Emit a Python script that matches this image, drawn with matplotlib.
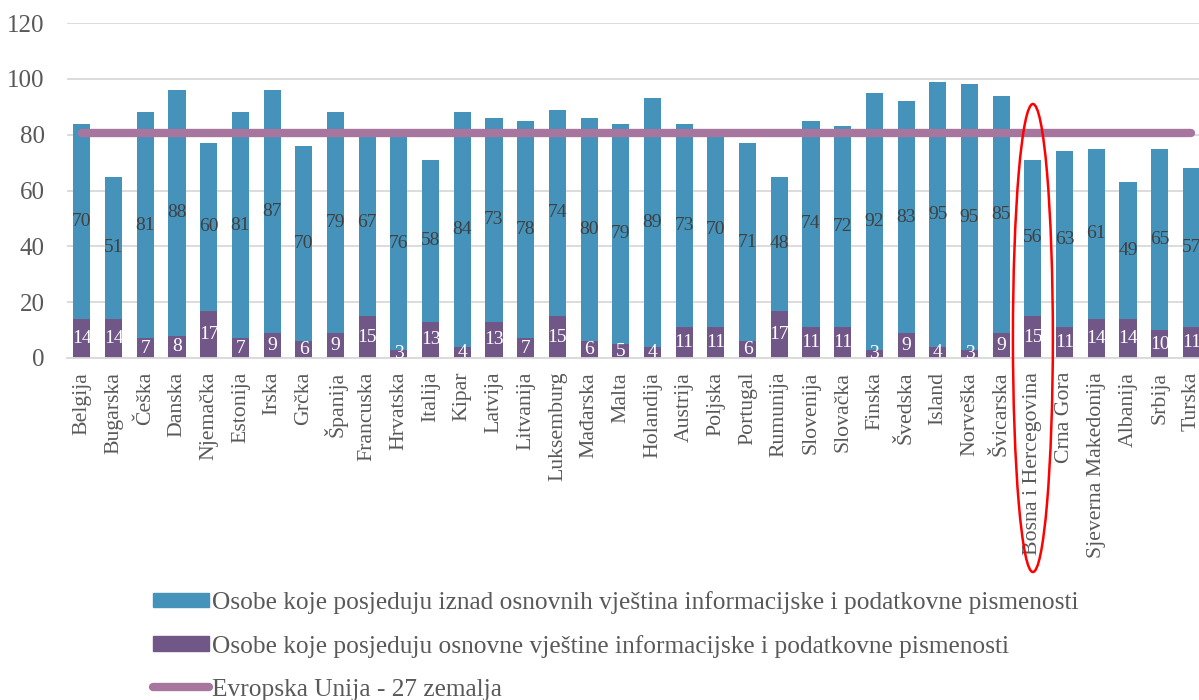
import matplotlib
matplotlib.use("Agg")
import matplotlib.pyplot as plt
import matplotlib.transforms as mtransforms
from matplotlib.patches import Patch, Ellipse
from matplotlib.lines import Line2D

countries = ["Belgija", "Bugarska", "Češka", "Danska", "Njemačka", "Estonija", "Irska",
             "Grčka", "Španija", "Francuska", "Hrvatska", "Italija", "Kipar", "Latvija",
             "Litvanija", "Luksemburg", "Mađarska", "Malta", "Holandija", "Austrija",
             "Poljska", "Portugal", "Rumunija", "Slovenija", "Slovačka", "Finska",
             "Švedska", "Island", "Norveška", "Švicarska", "Bosna i Hercegovina",
             "Crna Gora", "Sjeverna Makedonija", "Albanija", "Srbija", "Turska"]
basic = [14, 14, 7, 8, 17, 7, 9, 6, 9, 15, 3, 13, 4, 13, 7, 15, 6, 5, 4, 11,
         11, 6, 17, 11, 11, 3, 9, 4, 3, 9, 15, 11, 14, 14, 10, 11]
above_basic = [70, 51, 81, 88, 60, 81, 87, 70, 79, 67, 76, 58, 84, 73, 78, 74, 80, 79, 89, 73,
               70, 71, 48, 74, 72, 92, 83, 95, 95, 85, 56, 63, 61, 49, 65, 57]
eu27 = 80.5

label_above = "Osobe koje posjeduju iznad osnovnih vještina informacijske i podatkovne pismenosti"
label_basic = "Osobe koje posjeduju osnovne vještine informacijske i podatkovne pismenosti"
label_eu = "Evropska Unija - 27 zemalja"

c_blue = "#4592BA"
c_purple = "#715787"
c_eu = "#A6769E"
grey = "#595959"
serif = "Liberation Serif"

fig = plt.figure(figsize=(11.99, 7.0), dpi=100)
ax = fig.add_axes([67 / 1199, 1 - 358 / 700, 1 - 67 / 1199, 335 / 700])

x = list(range(len(countries)))
w = 0.54
ax.bar(x, basic, width=w, color=c_purple, zorder=2)
ax.bar(x, above_basic, width=w, bottom=basic, color=c_blue, zorder=2)

# value labels in the middle of each segment
for i in x:
    ax.text(i, basic[i] / 2, str(basic[i]), ha="center", va="center",
            color="white", fontsize=14, family=serif, zorder=4)
    ax.text(i, basic[i] + above_basic[i] / 2, str(above_basic[i]), ha="center",
            va="center", color="#404040", fontsize=14, family=serif, zorder=4)

# EU-27 average line
ax.plot([x[0], x[-1]], [eu27, eu27], color=c_eu, lw=6, solid_capstyle="round",
        zorder=3, clip_on=False)

ax.set_xlim(-0.47, 35.24)
ax.set_ylim(0, 120)
ax.set_yticks(range(0, 121, 20))
ax.set_xticks(x)
ax.set_xticklabels(countries, rotation=90, fontsize=15.7, family=serif, color=grey, va="top")
for lab in ax.get_yticklabels():
    lab.set_family(serif)
    lab.set_fontsize(18)
    lab.set_color(grey)
ax.tick_params(axis="both", length=0)
ax.tick_params(axis="y", pad=16)
ax.tick_params(axis="x", pad=10)
ax.yaxis.grid(True, color="#D9D9D9", lw=1.3, zorder=0)
ax.set_axisbelow(True)
for s in ["top", "right", "left"]:
    ax.spines[s].set_visible(False)
ax.spines["bottom"].set_color("#D9D9D9")
ax.spines["bottom"].set_linewidth(1.3)

# highlight Bosna i Hercegovina
bih = countries.index("Bosna i Hercegovina")
trans = mtransforms.blended_transform_factory(ax.transData, fig.transFigure)
ax.add_patch(Ellipse((bih, 1 - 338 / 700), width=1.26, height=468 / 700,
                     transform=trans, fill=False, edgecolor="red", lw=1.8,
                     clip_on=False, zorder=5))

handles = [Patch(color=c_blue, label=label_above),
           Patch(color=c_purple, label=label_basic),
           Line2D([], [], color=c_eu, lw=6, solid_capstyle="round", label=label_eu)]
fig.legend(handles=handles, loc="upper left", bbox_to_anchor=(153 / 1199, 1 - 591 / 700),
           frameon=False, prop={"family": serif, "size": 18.3}, borderpad=0,
           borderaxespad=0, handlelength=2.2, handleheight=0.52, handletextpad=0.12,
           labelspacing=0.82, labelcolor=grey)

fig.savefig("out.png", dpi=100)
